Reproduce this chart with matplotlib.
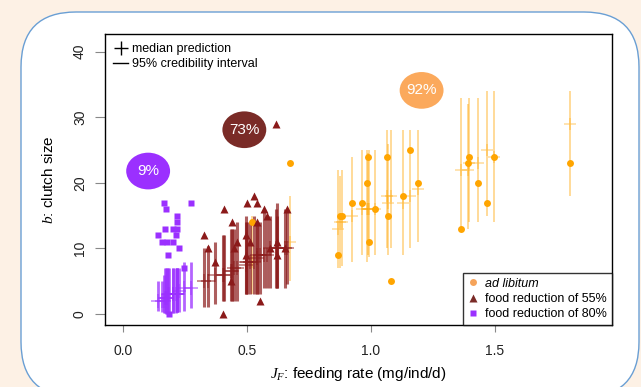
import matplotlib
matplotlib.use('Agg')
import matplotlib.pyplot as plt
from matplotlib.patches import Ellipse, FancyBboxPatch
from matplotlib.lines import Line2D

plt.rcParams['font.family'] = ['Liberation Sans', 'DejaVu Sans']
plt.rcParams['mathtext.fontset'] = 'custom'
plt.rcParams['mathtext.it'] = 'Liberation Serif:italic'
plt.rcParams['mathtext.rm'] = 'Liberation Serif'

# ad libitum (orange)
ad_x = [0.522, 0.675, 0.869, 0.876, 0.885, 0.924, 0.965, 0.983, 0.987, 0.994, 1.018, 1.064,
        1.071, 1.081, 1.131, 1.159, 1.19, 1.364, 1.393, 1.397, 1.434, 1.467, 1.497, 1.803]
ad_obs = [14, 23, 9, 15, 15, 17, 17, 20, 24, 11, 16, 24, 15, 5, 18, 25, 20, 13, 23, 24, 20, 17, 24, 23]
ad_med = [8, 11, 13, 14, 14, 15, 16, 16, 16, 16, 16, 18, 17, 18, 17, 18, 19, 22, 22, 23, 23, 25, 24, 29]
ad_lo = [3, 5, 7, 7, 7.3, 8, 9, 8, 9, 8.7, 9, 10, 9, 10, 9, 10, 11, 12.8, 13, 14, 14, 15, 14, 18]
ad_hi = [15, 18, 22, 21, 22, 24, 25, 25, 24.6, 25, 25, 28, 26, 28, 28, 28, 28, 33, 32, 33, 33, 34, 34, 34]

# food reduction of 55% (dark red)
r55_x = [0.326, 0.344, 0.37, 0.405, 0.41, 0.436, 0.442, 0.448, 0.462, 0.497, 0.497, 0.5, 0.513,
         0.53, 0.543, 0.542, 0.553, 0.571, 0.58, 0.594, 0.62, 0.623, 0.618, 0.654, 0.661]
r55_obs = [12, 10, 8, 0, 16, 5, 14, 10, 11, 12, 9, 17, 11, 18, 17, 14, 2, 16, 15, 10, 11, 9, 29, 10, 16]
r55_med = [5, 5, 6, 6, 6, 6.5, 6.5, 7, 7, 7.5, 8, 8, 8, 8, 8.5, 9, 9, 9, 9, 10, 10, 10, 10, 10, 10]
r55_lo = [1, 1, 1.5, 2, 2, 2, 2, 2, 2, 3, 3, 3, 3, 3, 3, 3, 3, 4, 4, 4, 4, 4, 4, 4, 4.5]
r55_hi = [10, 10.3, 11, 12, 12, 13, 13, 13, 14, 14, 15, 14, 14, 15, 14, 14, 14, 16, 15, 15, 17, 15, 16, 16, 16]

# food reduction of 80% (purple)
r80_x = [0.141, 0.157, 0.166, 0.17, 0.173, 0.177, 0.181, 0.186, 0.204, 0.204, 0.215,
         0.22, 0.22, 0.22, 0.228, 0.248, 0.275]
r80_obs = [12, 11, 17, 13, 16, 11, 9, 0, 13, 11, 12, 15, 14, 13, 10, 7, 17]
r80_med = [2, 2, 2, 2.5, 2.5, 2.5, 3, 3, 3, 3, 3, 3, 3, 3, 3.5, 4, 4]
r80_lo = [0.5, 0.3, 0.2, 0.2, 0, 0, 0, 0, 0.2, 0.2, 0.2, 0.3, 0.3, 0.3, 0.3, 0.5, 0.9]
r80_hi = [5, 5, 6, 7, 7, 7, 7, 7, 7, 7, 7, 7, 7, 7, 7, 8, 8]

pct_labels = ['9%', '73%', '92%']
pct_x = [0.102, 0.49, 1.205]
pct_y = [21.8, 28.1, 34.1]

c_or = '#FFA500'
c_red = '#8B1A1A'
c_pur = '#9B30FF'

fig = plt.figure(figsize=(6.41, 3.87), dpi=100)
fig.patch.set_facecolor('#FDF1E5')

# white rounded panel
bg = fig.add_axes([0, 0, 1, 1])
bg.set_xlim(0, 641)
bg.set_ylim(387, 0)
bg.axis('off')
bg.add_patch(FancyBboxPatch((21, 12), 618, 385, boxstyle='round,pad=0,rounding_size=55',
                            fc='white', ec='#6A9FD4', lw=1))

ax = fig.add_axes([105 / 641, 1 - 325 / 387, 507 / 641, 291 / 387])
ax.set_xlim(-0.072, 1.973)
ax.set_ylim(-1.68, 42.7)

# credibility intervals + medians
ax.vlines(ad_x, ad_lo, ad_hi, color=c_or, lw=1.4, alpha=0.4)
ax.plot(ad_x, ad_med, '+', color=c_or, ms=9, mew=1.1, alpha=0.4)
ax.vlines(r55_x, r55_lo, r55_hi, color=c_red, lw=2.2, alpha=0.7)
ax.plot(r55_x, r55_med, '+', color=c_red, ms=10, mew=1.1, alpha=0.6)
ax.vlines(r80_x, r80_lo, r80_hi, color=c_pur, lw=2.0, alpha=0.75)
ax.plot(r80_x, r80_med, '+', color=c_pur, ms=10, mew=1.1, alpha=0.6)

# observations
ax.plot(ad_x, ad_obs, 'o', color=c_or, ms=5, mec='none')
ax.plot(r55_x, r55_obs, '^', color=c_red, ms=6, mec='none')
ax.plot(r80_x, r80_obs, 's', color=c_pur, ms=5, mec='none')

# percentage bubbles
for lab, ex, ey, col in zip(pct_labels, pct_x, pct_y, [c_pur, '#7A2B27', '#FBA95C']):
    ax.add_patch(Ellipse((ex, ey), 0.177, 5.6, fc=col, ec='none'))
    ax.text(ex, ey, lab, color='white', fontsize=11, ha='center', va='center')

ax.set_xticks([0, 0.5, 1.0, 1.5])
ax.set_xticklabels(['0.0', '0.5', '1.0', '1.5'])
ax.set_yticks([0, 10, 20, 30, 40])
ax.set_yticklabels(['0', '10', '20', '30', '40'], rotation=90, va='center')
ax.tick_params(axis='x', length=5, color='#888888', labelcolor='#222222', labelsize=10, pad=9)
ax.tick_params(axis='y', length=7, color='#888888', labelcolor='#222222', labelsize=10, pad=6)
for s in ax.spines.values():
    s.set_linewidth(1)

ax.set_xlabel('$J_F$: feeding rate (mg/ind/d)', fontsize=11, labelpad=5)
ax.set_ylabel('$b$: clutch size', fontsize=11, labelpad=12)

h1 = [Line2D([], [], marker='+', ls='none', color='k', ms=10, mew=1),
      Line2D([], [], color='k', lw=1)]
leg1 = ax.legend(h1, ['median prediction', '95% credibility interval'], loc='upper left',
                 frameon=False, fontsize=9, handlelength=1.2, handletextpad=0.3,
                 borderaxespad=0.0, labelspacing=0.25, bbox_to_anchor=(0.006, 0.985))
ax.add_artist(leg1)

h2 = [Line2D([], [], marker='o', ls='none', color='#F5A35A', ms=5, mec='none'),
      Line2D([], [], marker='^', ls='none', color='#7A2B27', ms=6, mec='none'),
      Line2D([], [], marker='s', ls='none', color=c_pur, ms=5, mec='none')]
leg2 = ax.legend(h2, ['ad libitum', 'food reduction of 55%', 'food reduction of 80%'],
                 loc='lower right', fontsize=9, fancybox=False, edgecolor='black',
                 borderaxespad=0.0, handlelength=0.8, handletextpad=0.6,
                 labelspacing=0.25, borderpad=0.4)
leg2.get_frame().set_linewidth(1)
leg2.get_texts()[0].set_fontstyle('italic')

fig.savefig('out.png', dpi=100, facecolor=fig.get_facecolor())
